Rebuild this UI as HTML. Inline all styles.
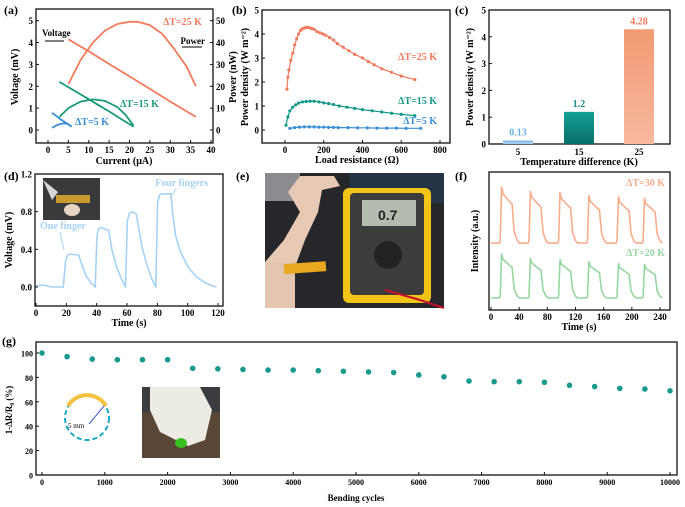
<!DOCTYPE html>
<html><head><meta charset="utf-8"><style>
html,body{margin:0;padding:0;background:#fff}
svg{display:block;font-family:"Liberation Serif",serif;font-weight:bold}
</style></head><body>
<svg id="fig" width="685" height="507" viewBox="0 0 685 507" xmlns="http://www.w3.org/2000/svg">
<defs>
<linearGradient id="gBlue" x1="0" y1="0" x2="0" y2="1"><stop offset="0" stop-color="#7fb6e6"/><stop offset="1" stop-color="#aed2f0"/></linearGradient>
<linearGradient id="gTeal" x1="0" y1="0" x2="0" y2="1"><stop offset="0" stop-color="#14a094"/><stop offset="1" stop-color="#0a6e6a"/></linearGradient>
<linearGradient id="gSal" x1="0" y1="0" x2="0" y2="1"><stop offset="0" stop-color="#f29a72"/><stop offset="1" stop-color="#f8b8a0"/></linearGradient>
</defs>
<!-- photo (e) -->
<g>
<rect x="265" y="173" width="179" height="135" fill="#25272b"/>
<rect x="265" y="173" width="35" height="28" fill="#8a8c90"/>
<rect x="350" y="173" width="94" height="30" fill="#263448"/>
<path d="M265 300 L292 275 L305 240 L318 212 L322 190 L340 186 L334 176 L300 176 L288 192 L300 212 L284 240 L265 262 Z" fill="#e8cab4"/>
<rect x="265" y="262" width="30" height="46" fill="#e4c6b0"/>
<rect x="284" y="263" width="42" height="10" fill="#e8a820" transform="rotate(-4 300 268)"/>
<rect x="343" y="188" width="88" height="115" rx="6" fill="#f2c418"/>
<rect x="350" y="193" width="74" height="102" rx="4" fill="#3c3c3c"/>
<rect x="362" y="200" width="54" height="26" fill="#b4bcb0"/>
<text x="378" y="220" font-size="14" fill="#222" font-family="Liberation Sans,sans-serif">0.7</text>
<circle cx="388" cy="255" r="14" fill="#222"/>
<path d="M385 290 L420 300 L444 308" stroke="#c8102e" stroke-width="2" fill="none"/>
</g>
<!-- photo (d) inset -->
<g>
<rect x="43" y="178" width="57" height="42" fill="#3a3a3c"/>
<rect x="56" y="195" width="34" height="8" fill="#c89a30"/>
<ellipse cx="72" cy="210" rx="8" ry="6" fill="#e8d4c4"/>
<path d="M43 180 L58 192 L52 200 Z" fill="#d8d8d8"/>
</g>
<!-- photo (g) inset -->
<g>
<rect x="142" y="387" width="78" height="71" fill="#5a4636"/>
<rect x="142" y="387" width="78" height="25" fill="#3a3c40"/>
<path d="M150 387 L200 387 L212 410 L205 440 L188 446 L160 432 L150 410 Z" fill="#ecece4"/>
<ellipse cx="181" cy="443" rx="6" ry="5" fill="#3ac020"/>
</g>
<g>
<circle cx="87" cy="418" r="22" fill="none" stroke="#18a8c8" stroke-width="2" stroke-dasharray="5,3"/>
<path d="M68 406 A22 22 0 0 1 106 406" fill="none" stroke="#f4c040" stroke-width="4"/>
<line x1="89" y1="424" x2="104" y2="406" stroke="#4060c0" stroke-width="1"/>
<text x="68" y="428" font-size="7" font-weight="normal">5 mm</text>
</g>
</svg>
<script>
// ---- data (a)
const aV25I=[5,10,15,20,25,30,36.3], aV25=[4.15,3.6,3.02,2.45,1.88,1.3,0.6];
const aP25I=[5,8,11,14,17,20,22,25,28,31,34,36.3], aP25=[21,32,40,45.5,48.5,49.5,49.5,48,44,37,29,20];
const aV15I=[2.8,6,9,12,15,18,21], aV15=[2.2,1.85,1.52,1.18,0.85,0.5,0.15];
const aP15I=[2.8,5,8,11,14,17,19,21], aP15=[6,10,13,14,13.3,10.5,7,2];
const aV5I=[1,2,3,4,5,5.8], aV5=[0.78,0.65,0.5,0.38,0.25,0.15];
const aP5I=[1,2,3,4,5,5.8], aP5=[1,2,2.8,3,2.6,1.5];
const aXt=[0,5,10,15,20,25,30,35,40], aYt=[0,1,2,3,4,5], aY2t=[0,10,20,30,40,50];
// ---- data (b)
const b25R=[10,15,20,30,40,50,60,70,80,90,100,110,120,130,140,150,165,180,195,210,230,250,270,300,330,360,400,430,460,500,550,600,670];
const b25P=[1.7,2.2,2.5,2.9,3.2,3.55,3.8,4.0,4.15,4.22,4.25,4.28,4.27,4.25,4.22,4.2,4.1,4.05,4.0,3.95,3.85,3.75,3.6,3.45,3.3,3.15,3.0,2.85,2.72,2.55,2.4,2.25,2.1];
const b15R=[5,15,25,40,55,70,90,110,130,150,175,200,225,250,280,320,360,400,450,500,550,600,670];
const b15P=[0.2,0.55,0.8,0.95,1.05,1.12,1.17,1.19,1.2,1.2,1.17,1.13,1.1,1.06,1.0,0.95,0.9,0.85,0.8,0.75,0.7,0.65,0.6];
const b5R=[25,50,75,100,125,150,175,200,225,250,275,325,375,425,475,525,575,625,700];
const b5P=[0.07,0.1,0.12,0.13,0.13,0.13,0.12,0.12,0.11,0.11,0.1,0.1,0.09,0.09,0.08,0.08,0.08,0.07,0.07];
const bXt=[0,200,400,600,800], bYt=[0,1,2,3,4,5];
// ---- data (c)
const cCats=["5","15","25"], cVals=[0.13,1.2,4.28], cLabels=["0.13","1.2","4.28"];
const cYt=[0,1,2,3,4,5];
// ---- data (d)
const dT=[0,5,10,18,19.5,20.5,22,28,30,33,36,39,40.2,41.5,43,48,50,53,56,59,60.2,61.5,63,66,68,70,73,76,79,80.2,81.5,83,89,90,92,95,100,105,110,115,119];
const dV=[0.01,0.02,0.0,0.0,0.28,0.33,0.35,0.34,0.25,0.12,0.05,0.0,0.55,0.62,0.63,0.6,0.4,0.22,0.1,0.0,0.7,0.78,0.8,0.78,0.6,0.42,0.24,0.1,0.0,0.9,0.98,0.99,0.99,0.8,0.55,0.38,0.22,0.12,0.06,0.02,0.0];
const dXt=[0,20,40,60,80,100,120], dYt=[0.0,0.4,0.8,1.2], dYtl=["0.0","0.4","0.8","1.2"];
// ---- data (f)
const fStarts=[13,54,96,137,179,216];
const f30Peaks=[8.9,8.6,8.5,8.3,8.2,8.1], f30Base=4.85;
const f20Peaks=[4.05,3.75,3.65,3.5,3.35,3.3], f20Base=0.87;
const fXt=[0,40,80,120,160,200,240];
// ---- data (g)
const gCycles=[0,400,800,1200,1600,2000,2400,2800,3200,3600,4000,4400,4800,5200,5600,6000,6400,6800,7200,7600,8000,8400,8800,9200,9600,10000];
const gVals=[100,97,95,94.5,94.5,94.5,87.5,87,86.5,86,86,85.5,85,84.5,84,82,80.5,77,76.5,76.5,76,73.5,72.5,71,70.5,69];
const gXt=[0,1000,2000,3000,4000,5000,6000,7000,8000,9000,10000], gYt=[0,20,40,60,80,100];

const NS="http://www.w3.org/2000/svg", svg=document.getElementById('fig');
function el(tag,attrs,parent){const e=document.createElementNS(NS,tag);for(const k in attrs)e.setAttribute(k,attrs[k]);(parent||svg).appendChild(e);return e;}
function lin(d0,d1,r0,r1){return v=>r0+(v-d0)*(r1-r0)/(d1-d0);}
function txt(x,y,s,size,fill,anchor,rot,name){const t=el('text',{x:x,y:y,'font-size':size,fill:fill||'#000','text-anchor':anchor||'middle'});if(rot)t.setAttribute('transform','rotate('+rot+' '+x+' '+y+')');t.textContent=s;


return t;}
function frame(x0,y0,x1,y1,name){const r=el('rect',{x:x0,y:y0,width:x1-x0,height:y1-y0,fill:'none',stroke:'#111','stroke-width':1.3});

}
function line(xs,ys,sx,sy,color,w,name){const p=el('polyline',{points:xs.map((x,i)=>sx(x).toFixed(1)+','+sy(ys[i]).toFixed(1)).join(' '),fill:'none',stroke:color,'stroke-width':w||1.8,'stroke-linejoin':'round'});

return p;}
function dots(xs,ys,sx,sy,color,r,name){xs.forEach((x,i)=>{const c=el('circle',{cx:sx(x),cy:sy(ys[i]),r:r,fill:color});

});}
function xticks(ticks,sx,yb,fs,labels,name){ticks.forEach((t,i)=>{el('line',{x1:sx(t),x2:sx(t),y1:yb,y2:yb-3,stroke:'#111'});txt(sx(t),yb+10,labels?labels[i]:String(t),fs,'#000','middle',0,name);});}
function yticks(ticks,sy,xl,fs,labels,name,right){ticks.forEach((t,i)=>{el('line',{x1:xl,x2:right?xl-3:xl+3,y1:sy(t),y2:sy(t),stroke:'#111'});txt(right?xl+3:xl-3,sy(t)+3.5,labels?labels[i]:String(t),fs,'#000',right?'start':'end',0,name);});}

// ===== (a)
{const sx=lin(0,40,48,211), sy=lin(0,5,130,20.7), sy2=lin(0,50,130,20.7);
frame(36,9,213,143,'panel-a-frame');
const OR='#f07a5c',GR='#1a9a78',BL='#3a8ed4';
line(aV25I,aV25,sx,sy,OR,1.8,'voltage-25k');line(aP25I,aP25,sx,sy2,OR,1.8,'power-25k');
line(aV15I,aV15,sx,sy,GR,1.8,'voltage-15k');line(aP15I,aP15,sx,sy2,GR,1.8,'power-15k');
line(aV5I,aV5,sx,sy,BL,1.8,'voltage-5k');line(aP5I,aP5,sx,sy2,BL,1.8,'power-5k');
xticks(aXt,sx,143,9,null,'a-x-tick');yticks(aYt,sy,36,9,null,'a-y-tick');yticks(aY2t,sy2,213,9,null,'a-y2-tick',true);
txt(124,164,'Current (\u03bcA)',10,'#000','middle',0,'a-x-title');txt(18,77,'Voltage (mV)',10,'#000','middle',-90,'a-y-title');
txt(236,77,'Power (nW)',10,'#000','middle',-90,'a-y2-title');
txt(4,14,'(a)',12,'#000','start',0,'panel-a-letter');
txt(42,36,'Voltage',9,'#000','start',0,'voltage-arrow-label');el('line',{x1:64,y1:41,x2:45,y2:41,stroke:'#000','stroke-width':1});
txt(205,44,'Power',9,'#000','end',0,'power-arrow-label');el('line',{x1:182,y1:47,x2:202,y2:47,stroke:'#000','stroke-width':1});
txt(163,25,'\u0394T=25 K',10,OR,'start',0,'a-label-25k');txt(120,107,'\u0394T=15 K',10,GR,'start',0,'a-label-15k');txt(75,125,'\u0394T=5 K',10,BL,'start',0,'a-label-5k');}
// ===== (b)
{const sx=lin(0,800,285,440), sy=lin(0,5,130,10);
frame(262,10,450,143,'panel-b-frame');
const OR='#f07a5c',GR='#14988a',BL='#3a8ed4';
line(b25R,b25P,sx,sy,OR,1.2,'series-25k');dots(b25R,b25P,sx,sy,OR,1.6,'point-25k');
line(b15R,b15P,sx,sy,GR,1.2,'series-15k');dots(b15R,b15P,sx,sy,GR,1.6,'point-15k');
line(b5R,b5P,sx,sy,BL,1.2,'series-5k');dots(b5R,b5P,sx,sy,BL,1.6,'point-5k');
xticks(bXt,sx,143,9,null,'b-x-tick');yticks(bYt,sy,262,9,null,'b-y-tick');
txt(357,163,'Load resistance (\u03a9)',10,'#000','middle',0,'b-x-title');
txt(248,77,'Power density (W m\u207b\u00b2)',10,'#000','middle',-90,'b-y-title');
txt(232,14,'(b)',12,'#000','start',0,'panel-b-letter');
txt(437,60,'\u0394T=25 K',10,OR,'end',0,'b-label-25k');txt(437,104,'\u0394T=15 K',10,GR,'end',0,'b-label-15k');txt(437,124,'\u0394T=5 K',10,BL,'end',0,'b-label-5k');}
// ===== (c)
{const sy=lin(0,5,144,10), bx=[518,579,639], bw=30, fills=['url(#gBlue)','url(#gTeal)','url(#gSal)'], lc=['#6aaee0','#148a7e','#f07a5c'];
frame(489,10,670,144,'panel-c-frame');
cVals.forEach((v,i)=>{const r=el('rect',{x:bx[i]-bw/2,y:sy(v),width:bw,height:sy(0)-sy(v),fill:fills[i]});


txt(bx[i],sy(v)-5,cLabels[i],10,lc[i],'middle',0,'bar-value-label');
txt(bx[i],155,cCats[i],9,'#000','middle',0,'c-x-tick');});
yticks(cYt,sy,489,9,null,'c-y-tick');
txt(579,165,'Temperature difference (K)',10,'#000','middle',0,'c-x-title');
txt(473,77,'Power density (W m\u207b\u00b2)',10,'#000','middle',-90,'c-y-title');
txt(455,14,'(c)',12,'#000','start',0,'panel-c-letter');}
// ===== (d)
{const sx=lin(0,120,36,218), sy=lin(0,1.2,287,174);
frame(35,174,223,306,'panel-d-frame');
line(dT,dV,sx,sy,'#a6d2f4',1.6,'voltage-trace');
xticks(dXt,sx,306,9,null,'d-x-tick');yticks(dYt,sy,35,9,dYtl,'d-y-tick');
txt(129,326,'Time (s)',10,'#000','middle',0,'d-x-title');txt(12,240,'Voltage (mV)',10,'#000','middle',-90,'d-y-title');
txt(4,180,'(d)',12,'#000','start',0,'panel-d-letter');
txt(40,229,'One finger',10,'#a6d2f4','start',0,'one-finger-label');el('line',{x1:60,y1:232,x2:64,y2:250,stroke:'#a6d2f4'});
txt(208,186,'Four fingers',10,'#a6d2f4','end',0,'four-fingers-label');el('line',{x1:176,y1:189,x2:170,y2:198,stroke:'#a6d2f4'});}
// ===== (e)
txt(236,180,'(e)',12,'#000','start',0,'panel-e-letter');
// ===== (f)
{const sx=lin(0,240,491,660), sy=lin(0,10,310,172);
frame(489,172,670,310,'panel-f-frame');
function trace(peaks,base){const ts=[0],vs=[base];fStarts.forEach((s,i)=>{const a=peaks[i]-base;
ts.push(s-1,s,s+2,s+4,s+15,s+17,s+20,s+24,s+27);vs.push(base,base+0.05*a,peaks[i],peaks[i]-0.12*a,peaks[i]-0.28*a,peaks[i]-0.3*a,base+0.2*a,base+0.05*a,base);});
ts.push(248);vs.push(base);return [ts,vs];}
const o=trace(f30Peaks,f30Base), g=trace(f20Peaks,f20Base);
const oT=o[0].filter(t=>t<=246), gT=g[0].filter(t=>t<=246);
line(oT,o[1].slice(0,oT.length),sx,sy,'#f8ac8c',1.6,'intensity-30k');
line(gT,g[1].slice(0,gT.length),sx,sy,'#96d6a0',1.6,'intensity-20k');
xticks(fXt,sx,310,9,null,'f-x-tick');
txt(579,330,'Time (s)',10,'#000','middle',0,'f-x-title');txt(478,241,'Intensity (a.u.)',10,'#000','middle',-90,'f-y-title');
txt(455,180,'(f)',12,'#000','start',0,'panel-f-letter');
txt(665,186,'\u0394T=30 K',10,'#f8ac8c','end',0,'f-label-30k');txt(665,256,'\u0394T=20 K',10,'#96d6a0','end',0,'f-label-20k');}
// ===== (g)
{const sx=lin(0,10000,42,670), sy=lin(0,100,475,353);
frame(36,342,677,475,'panel-g-frame');
dots(gCycles,gVals,sx,sy,'#1a9a8c',2.8,'retention-point');
xticks(gXt,sx,475,8,null,'g-x-tick');yticks(gYt,sy,36,8,null,'g-y-tick');
txt(356,501,'Bending cycles',9,'#000','middle',0,'g-x-title');
txt(12,410,'1-\u0394R/R\u2080 (%)',9,'#000','middle',-90,'g-y-title');
txt(2,345,'(g)',12,'#000','start',0,'panel-g-letter');}
</script>
</body></html>
